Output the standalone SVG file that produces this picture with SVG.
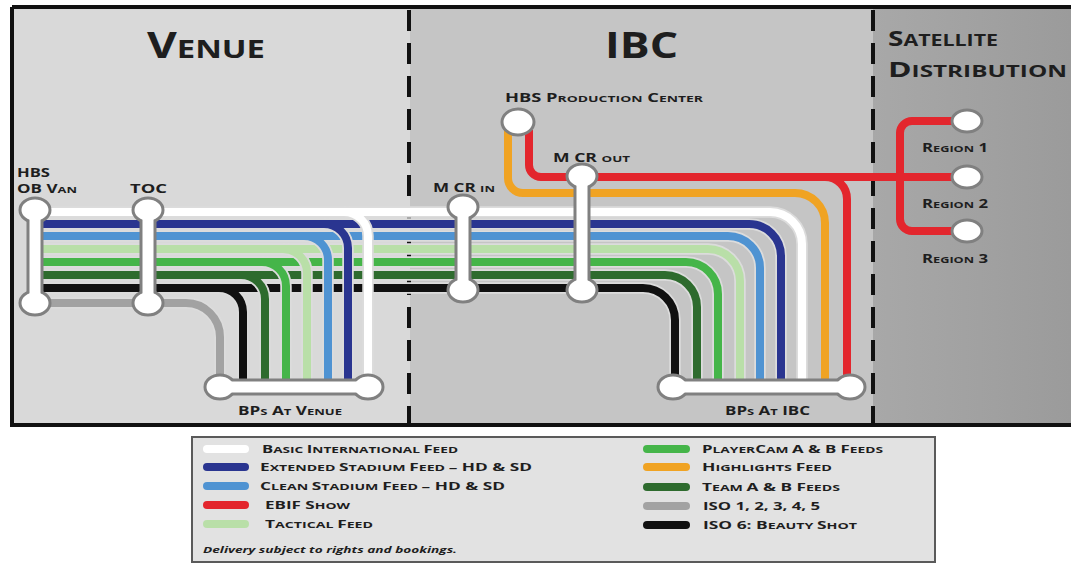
<svg xmlns="http://www.w3.org/2000/svg" width="1071" height="564" viewBox="0 0 1071 564">
<defs>
<linearGradient id="satg" x1="0" y1="0" x2="1" y2="0">
<stop offset="0" stop-color="#a8a8a8"/>
<stop offset="1" stop-color="#9b9b9b"/>
</linearGradient>
</defs>
<style>
.t{font-family:"Open Sans",Lato,"DejaVu Sans",sans-serif;font-weight:700;fill:#1e1e1e}
.title{font-size:25px}
.tb{font-size:35px}
.sat{font-size:16px}
.satb{font-size:21px}
.nl{font-size:9.5px}
.nb{font-size:12.5px}
.lg{font-size:9px}
.lb{font-size:11px}
.dash{stroke:#111;stroke-width:4;stroke-dasharray:21 12;fill:none}
.cs{fill:none;stroke:#dcdcdc;stroke-width:11.5;stroke-linejoin:round}
.ln{fill:none;stroke-width:8;stroke-linejoin:round}
.w{stroke:#ffffff}.n{stroke:#2a3590}.lbl{stroke:#4f93d2}.pg{stroke:#b9dfa8}.g{stroke:#45b549}
.dg{stroke:#2e6b2e}.k{stroke:#111111}.gr{stroke:#a2a2a2}.o{stroke:#f0a323}.r{stroke:#e3262d}
.bo{fill:none;stroke:#808080;stroke-width:17}
.bi{fill:none;stroke:#ffffff;stroke-width:11}
.nd{fill:#ffffff;stroke:#808080;stroke-width:3}
.sw{fill:none;stroke-width:8;stroke-linecap:round}
</style>
<rect x="0" y="0" width="1071" height="564" fill="#ffffff"/>
<g id="panels">
<rect x="10" y="7" width="400" height="418" fill="#d9d9d9"/>
<rect x="410" y="7" width="463" height="418" fill="#c5c5c5"/>
<rect x="873" y="7" width="198" height="418" fill="url(#satg)"/>
<path d="M12,7 H1071 M12,7 V425 H1071" fill="none" stroke="#111" stroke-width="4"/>
<line x1="409" y1="10" x2="409" y2="423" class="dash"/>
<line x1="873" y1="10" x2="873" y2="423" class="dash"/>
<text class="t title" x="147" y="58" textLength="118" lengthAdjust="spacingAndGlyphs"><tspan class="tb">V</tspan>ENUE</text>
<text class="t tb" x="605" y="58" textLength="73" lengthAdjust="spacingAndGlyphs">IBC</text>
<text class="t sat" x="888" y="46" textLength="110" lengthAdjust="spacingAndGlyphs"><tspan class="satb">S</tspan>ATELLITE</text>
<text class="t sat" x="888" y="77" textLength="179" lengthAdjust="spacingAndGlyphs"><tspan class="satb">D</tspan>ISTRIBUTION</text>
</g>
<g id="connectors">
<path class="cs" d="M35,303 H186 A34,34 0 0 1 220,337 V384"/>
<path class="ln gr" d="M35,303 H186 A34,34 0 0 1 220,337 V384"/>

<path class="cs" d="M35,288 H643 A32,32 0 0 1 675,320 V384"/>
<path class="cs" d="M219,288 A24,24 0 0 1 243,312 V384"/>
<path class="ln k" d="M219,288 A24,24 0 0 1 243,312 V384"/>
<path class="ln k" d="M35,288 H643 A32,32 0 0 1 675,320 V384"/>

<path class="cs" d="M35,275 H665 A32,32 0 0 1 697,307 V384"/>
<path class="cs" d="M241,275 A24,24 0 0 1 265,299 V384"/>
<path class="ln dg" d="M241,275 A24,24 0 0 1 265,299 V384"/>
<path class="ln dg" d="M35,275 H665 A32,32 0 0 1 697,307 V384"/>

<path class="cs" d="M35,262 H686 A32,32 0 0 1 718,294 V384"/>
<path class="cs" d="M262,262 A24,24 0 0 1 286,286 V384"/>
<path class="ln g" d="M262,262 A24,24 0 0 1 286,286 V384"/>
<path class="ln g" d="M35,262 H686 A32,32 0 0 1 718,294 V384"/>

<path class="cs" d="M35,249 H708 A32,32 0 0 1 740,281 V384"/>
<path class="cs" d="M283,249 A24,24 0 0 1 307,273 V384"/>
<path class="ln pg" d="M283,249 A24,24 0 0 1 307,273 V384"/>
<path class="ln pg" d="M35,249 H708 A32,32 0 0 1 740,281 V384"/>

<path class="cs" d="M35,236 H728 A32,32 0 0 1 760,268 V384"/>
<path class="cs" d="M304,236 A24,24 0 0 1 328,260 V384"/>
<path class="ln lbl" d="M304,236 A24,24 0 0 1 328,260 V384"/>
<path class="ln lbl" d="M35,236 H728 A32,32 0 0 1 760,268 V384"/>

<path class="cs" d="M35,224 H749 A32,32 0 0 1 781,256 V384"/>
<path class="cs" d="M324,224 A24,24 0 0 1 348,248 V384"/>
<path class="ln n" d="M324,224 A24,24 0 0 1 348,248 V384"/>
<path class="ln n" d="M35,224 H749 A32,32 0 0 1 781,256 V384"/>

<path class="cs" d="M35,212 H770 A32,32 0 0 1 802,244 V384"/>
<path class="cs" d="M344,212 A24,24 0 0 1 368,236 V384"/>
<path class="ln w" d="M344,212 A24,24 0 0 1 368,236 V384"/>
<path class="ln w" d="M35,212 H770 A32,32 0 0 1 802,244 V384"/>

<path class="ln o" d="M508,130 V178 A15,15 0 0 0 523,193 H795 A30,30 0 0 1 825,223 V384"/>
<path class="ln r" d="M825,177 A22,22 0 0 1 847,199 V384"/>
<path class="ln r" d="M529,130 V165 A12,12 0 0 0 541,177 H955"/>
<path class="ln r" d="M955,121 H912 A12,12 0 0 0 900,133 V219 A12,12 0 0 0 912,231 H955"/>
</g>
<g id="hbs-ob-van">
<path class="bo" d="M35,210 V303"/>
<ellipse class="nd" cx="35" cy="210" rx="15" ry="12"/>
<ellipse class="nd" cx="35" cy="303" rx="15" ry="12"/>
<path class="bi" d="M35,210 V303"/>
<text class="t nb" x="17" y="177" textLength="33" lengthAdjust="spacingAndGlyphs">HBS</text>
<text class="t nb" x="17" y="193" textLength="60" lengthAdjust="spacingAndGlyphs">OB V<tspan class="nl">AN</tspan></text>
</g>
<g id="toc">
<path class="bo" d="M148,210 V303"/>
<ellipse class="nd" cx="148" cy="210" rx="15" ry="12"/>
<ellipse class="nd" cx="148" cy="303" rx="15" ry="12"/>
<path class="bi" d="M148,210 V303"/>
<text class="t nb" x="130" y="193" textLength="37" lengthAdjust="spacingAndGlyphs">TOC</text>
</g>
<g id="mcr-in">
<path class="bo" d="M463,207 V290"/>
<ellipse class="nd" cx="463" cy="207" rx="15" ry="12"/>
<ellipse class="nd" cx="463" cy="290" rx="15" ry="12"/>
<path class="bi" d="M463,207 V290"/>
<text class="t nb" x="433" y="192" textLength="62" lengthAdjust="spacingAndGlyphs">M CR <tspan class="nl">IN</tspan></text>
</g>
<g id="mcr-out">
<path class="bo" d="M582,176 V290"/>
<ellipse class="nd" cx="582" cy="176" rx="15" ry="12"/>
<ellipse class="nd" cx="582" cy="290" rx="15" ry="12"/>
<path class="bi" d="M582,176 V290"/>
<text class="t nb" x="553" y="162" textLength="77" lengthAdjust="spacingAndGlyphs">M CR <tspan class="nl">OUT</tspan></text>
</g>
<g id="hbs-production-center">
<ellipse class="nd" cx="518" cy="122" rx="16" ry="13"/>
<text class="t nb" x="505" y="102" textLength="198" lengthAdjust="spacingAndGlyphs">HBS P<tspan class="nl">RODUCTION</tspan> C<tspan class="nl">ENTER</tspan></text>
</g>
<g id="bps-at-venue">
<path class="bo" d="M220,387 H368"/>
<ellipse class="nd" cx="220" cy="387" rx="15" ry="12"/>
<ellipse class="nd" cx="368" cy="387" rx="15" ry="12"/>
<path class="bi" d="M220,387 H368"/>
<text class="t nb" x="238" y="415" textLength="104" lengthAdjust="spacingAndGlyphs">BP<tspan class="nl">S</tspan> A<tspan class="nl">T</tspan> V<tspan class="nl">ENUE</tspan></text>
</g>
<g id="bps-at-ibc">
<path class="bo" d="M673,387 H850"/>
<ellipse class="nd" cx="673" cy="387" rx="15" ry="12"/>
<ellipse class="nd" cx="850" cy="387" rx="15" ry="12"/>
<path class="bi" d="M673,387 H850"/>
<text class="t nb" x="725" y="415" textLength="85" lengthAdjust="spacingAndGlyphs">BP<tspan class="nl">S</tspan> A<tspan class="nl">T</tspan> IBC</text>
</g>
<g id="region-1">
<ellipse class="nd" cx="967" cy="121" rx="15" ry="11"/>
<text class="t nb" x="922" y="152" textLength="66" lengthAdjust="spacingAndGlyphs">R<tspan class="nl">EGION</tspan> 1</text>
</g>
<g id="region-2">
<ellipse class="nd" cx="967" cy="177" rx="15" ry="11"/>
<text class="t nb" x="922" y="208" textLength="66" lengthAdjust="spacingAndGlyphs">R<tspan class="nl">EGION</tspan> 2</text>
</g>
<g id="region-3">
<ellipse class="nd" cx="967" cy="231" rx="15" ry="11"/>
<text class="t nb" x="922" y="263" textLength="66" lengthAdjust="spacingAndGlyphs">R<tspan class="nl">EGION</tspan> 3</text>
</g>
<g id="legend">
<rect x="192" y="437" width="743" height="125" fill="#e2e2e2" stroke="#5a5a5a" stroke-width="2"/>
<line class="sw w" x1="207" y1="449" x2="245" y2="449"/>
<line class="sw n" x1="207" y1="467" x2="245" y2="467"/>
<line class="sw lbl" x1="207" y1="486" x2="245" y2="486"/>
<line class="sw r" x1="207" y1="505" x2="245" y2="505"/>
<line class="sw pg" x1="207" y1="524" x2="245" y2="524"/>
<line class="sw g" x1="647" y1="449" x2="686" y2="449"/>
<line class="sw o" x1="647" y1="467" x2="686" y2="467"/>
<line class="sw dg" x1="647" y1="487" x2="686" y2="487"/>
<line class="sw gr" x1="647" y1="506" x2="686" y2="506"/>
<line class="sw k" x1="647" y1="525" x2="686" y2="525"/>
<text class="t lg" x="262" y="453" textLength="196" lengthAdjust="spacingAndGlyphs"><tspan class="lb">B</tspan>ASIC <tspan class="lb">I</tspan>NTERNATIONAL <tspan class="lb">F</tspan>EED</text>
<text class="t lg" x="260" y="471" textLength="272" lengthAdjust="spacingAndGlyphs"><tspan class="lb">E</tspan>XTENDED <tspan class="lb">S</tspan>TADIUM <tspan class="lb">F</tspan>EED <tspan class="lb">– HD &amp; SD</tspan></text>
<text class="t lg" x="260" y="490" textLength="245" lengthAdjust="spacingAndGlyphs"><tspan class="lb">C</tspan>LEAN <tspan class="lb">S</tspan>TADIUM <tspan class="lb">F</tspan>EED <tspan class="lb">– HD &amp; SD</tspan></text>
<text class="t lg" x="265" y="509" textLength="85" lengthAdjust="spacingAndGlyphs"><tspan class="lb">EBIF S</tspan>HOW</text>
<text class="t lg" x="265" y="528" textLength="108" lengthAdjust="spacingAndGlyphs"><tspan class="lb">T</tspan>ACTICAL <tspan class="lb">F</tspan>EED</text>
<text class="t" x="203" y="553" font-size="9.5" font-style="italic" textLength="254" lengthAdjust="spacingAndGlyphs">Delivery subject to rights and bookings.</text>
<text class="t lg" x="702" y="453" textLength="181" lengthAdjust="spacingAndGlyphs"><tspan class="lb">P</tspan>LAYER<tspan class="lb">C</tspan>AM <tspan class="lb">A &amp; B F</tspan>EEDS</text>
<text class="t lg" x="702" y="471" textLength="130" lengthAdjust="spacingAndGlyphs"><tspan class="lb">H</tspan>IGHLIGHTS <tspan class="lb">F</tspan>EED</text>
<text class="t lg" x="702" y="491" textLength="138" lengthAdjust="spacingAndGlyphs"><tspan class="lb">T</tspan>EAM <tspan class="lb">A &amp; B F</tspan>EEDS</text>
<text class="t lb" x="703" y="510" textLength="117" lengthAdjust="spacingAndGlyphs">ISO 1, 2, 3, 4, 5</text>
<text class="t lg" x="703" y="529" textLength="154" lengthAdjust="spacingAndGlyphs"><tspan class="lb">ISO 6: B</tspan>EAUTY <tspan class="lb">S</tspan>HOT</text>
</g>
</svg>
